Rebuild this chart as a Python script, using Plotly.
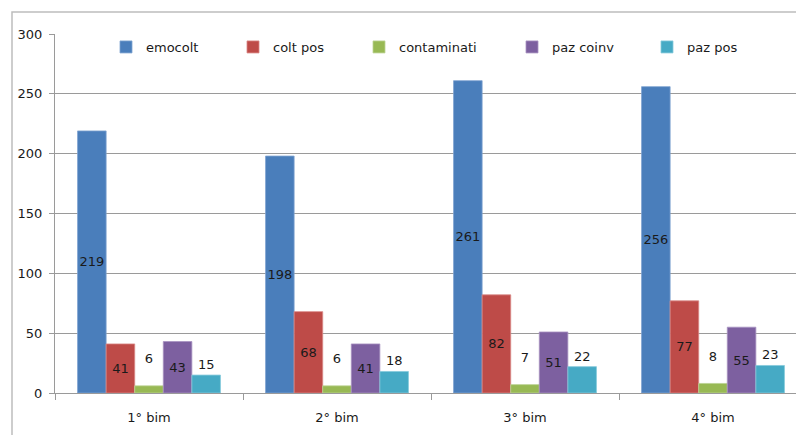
import plotly.graph_objects as go

categories = ["1° bim", "2° bim", "3° bim", "4° bim"]
emocolt = [219, 198, 261, 256]
colt_pos = [41, 68, 82, 77]
contaminati = [6, 6, 7, 8]
paz_coinv = [43, 41, 51, 55]
paz_pos = [15, 18, 22, 23]

series = [
    ("emocolt", emocolt, "#4a7ebb", "#7fa3d1", "inside", ""),
    ("colt pos", colt_pos, "#be4b48", "#d98785", "inside", ""),
    ("contaminati", contaminati, "#98b954", "#bcd394", "outside", "<br>&nbsp;"),
    ("paz coinv", paz_coinv, "#7d60a0", "#a892c2", "inside", ""),
    ("paz pos", paz_pos, "#46aac5", "#86cadc", "outside", ""),
]

FONT = "DejaVu Sans"
GRAY = "#9a9a9a"
W, H = 796, 435
ML, MR, MT, MB = 55, 0, 34, 42
PW = W - ML - MR
PH = H - MT - MB

# legend symbol left edges (px)
legend_px = [128, 255, 381, 534, 669]

fig = go.Figure()
for i, (name, vals, col, edge, pos, suffix) in enumerate(series):
    lg = "legend" if i == 0 else f"legend{i+1}"
    fig.add_trace(go.Bar(
        x=categories, y=vals, name=name,
        marker=dict(color=col, line=dict(color=edge, width=0.8)),
        text=[str(v) + suffix for v in vals],
        textposition=pos,
        insidetextanchor="middle",
        textangle=0,
        constraintext="none",
        cliponaxis=False,
        insidetextfont=dict(family=FONT, size=13, color="#1a1a1a"),
        outsidetextfont=dict(family=FONT, size=13, color="#1a1a1a"),
        legend=lg,
    ))

layout_legends = {}
for i, px in enumerate(legend_px):
    key = "legend" if i == 0 else f"legend{i+1}"
    layout_legends[key] = dict(
        x=(px - 22 - ML) / PW, xanchor="left",
        y=(MT + PH - 47) / PH, yanchor="middle",
        xref="paper", yref="paper",
        bgcolor="rgba(0,0,0,0)",
        font=dict(family=FONT, size=13, color="#1a1a1a"),
        orientation="h",
    )

fig.update_layout(
    width=W, height=H,
    margin=dict(l=ML, r=MR, t=MT, b=MB, pad=0),
    paper_bgcolor="white", plot_bgcolor="white",
    font=dict(family=FONT, size=13, color="#1a1a1a"),
    barmode="group", bargap=0.24, bargroupgap=0,
    showlegend=True,
    **layout_legends,
    xaxis=dict(
        type="category", range=[-0.5, -0.5 + PW / 188.0],
        showline=True, linecolor=GRAY, linewidth=1,
        ticks="outside", tickson="boundaries", ticklen=6, tickcolor=GRAY,
        showgrid=False, zeroline=False,
        ticklabelstandoff=12,
        tickfont=dict(family=FONT, size=13, color="#1a1a1a"),
    ),
    yaxis=dict(
        range=[0, 300], dtick=50, tick0=0,
        showline=True, linecolor=GRAY, linewidth=1,
        ticks="outside", ticklen=5, tickcolor=GRAY,
        showgrid=True, gridcolor=GRAY, gridwidth=1,
        zeroline=False,
        ticklabelstandoff=4,
        tickfont=dict(family=FONT, size=13, color="#1a1a1a"),
    ),
    shapes=[dict(
        type="rect", xref="paper", yref="paper",
        x0=(12 - ML) / PW, x1=1.05,
        y0=-0.3, y1=(MT + PH - 12) / PH,
        line=dict(color="#bdbdbd", width=1.5),
        fillcolor="rgba(0,0,0,0)", layer="below",
    )],
)

fig.write_html("out.html")
